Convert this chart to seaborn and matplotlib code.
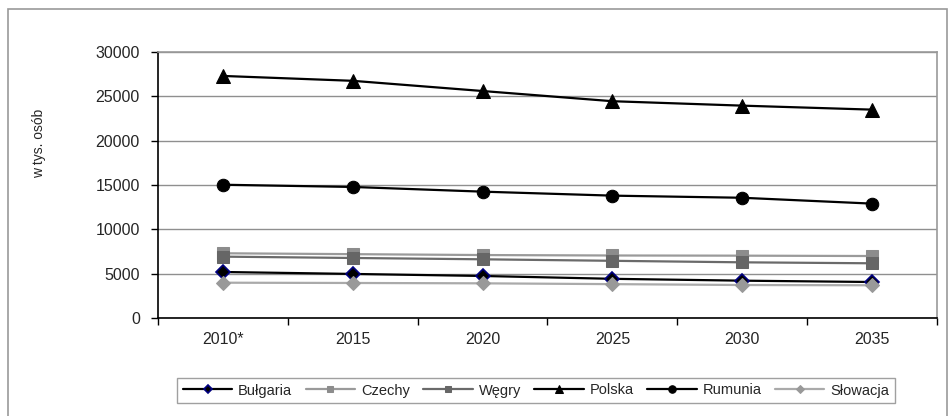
import matplotlib
matplotlib.use("Agg")
import matplotlib.pyplot as plt
import matplotlib.patches as mpatches
import seaborn as sns
import pandas as pd

years = ["2010*", "2015", "2020", "2025", "2030", "2035"]

bulgaria = [5190, 4970, 4740, 4420, 4210, 4060]
czechy = [7300, 7200, 7100, 7050, 7030, 6990]
wegry = [6920, 6770, 6620, 6450, 6280, 6170]
polska = [27300, 26750, 25600, 24450, 23950, 23500]
rumunia = [15030, 14780, 14250, 13800, 13560, 12900]
slowacja = [3980, 3950, 3910, 3820, 3720, 3690]

series = [
    ("Bułgaria", bulgaria, dict(color="black", marker="D", markersize=7.5,
                                markerfacecolor="black", markeredgecolor="#000080",
                                markeredgewidth=1.2)),
    ("Czechy", czechy, dict(color="#9a9a9a", marker="s", markersize=8,
                            markerfacecolor="#8c8c8c", markeredgecolor="#8c8c8c")),
    ("Węgry", wegry, dict(color="#6a6a6a", marker="s", markersize=8,
                          markerfacecolor="#666666", markeredgecolor="#666666")),
    ("Polska", polska, dict(color="black", marker="^", markersize=10,
                            markerfacecolor="black", markeredgecolor="black")),
    ("Rumunia", rumunia, dict(color="black", marker="o", markersize=9,
                              markerfacecolor="black", markeredgecolor="black")),
    ("Słowacja", slowacja, dict(color="#aaaaaa", marker="D", markersize=7,
                                markerfacecolor="#999999", markeredgecolor="#999999")),
]

sns.set_theme(style="white")
plt.rcParams["font.family"] = ["Liberation Sans", "DejaVu Sans"]

fig = plt.figure(figsize=(9.48, 4.16), dpi=100)
ax = fig.add_axes([158 / 948, 1 - 318 / 416, (937 - 158) / 948, (318 - 52) / 416])

xpos = list(range(len(years)))
for name, vals, style in series:
    df = pd.DataFrame({"x": xpos, "y": vals})
    sns.lineplot(data=df, x="x", y="y", ax=ax, label=name, linewidth=1.6,
                 **style)

ax.set_xlim(-0.5, len(years) - 0.5)
ax.set_ylim(0, 30000)
ax.set_yticks(range(0, 30001, 5000))
ax.set_yticklabels([str(v) for v in range(0, 30001, 5000)], fontsize=11.5)
ax.set_xticks(xpos)
ax.set_xticklabels(years, fontsize=11.5)
ax.set_xticks([i - 0.5 for i in range(len(years) + 1)], minor=True)
ax.tick_params(axis="x", which="major", length=0, pad=10)
ax.tick_params(axis="x", which="minor", length=5, width=1, color="black", direction="out", bottom=True)
ax.tick_params(axis="y", length=5, width=1, color="black", direction="out", left=True, pad=8)
ax.set_xlabel("")
ax.set_ylabel("w tys. osób", fontsize=10)
ax.yaxis.set_label_coords((46 - 158) / 779, 0.655)

ax.grid(axis="y", color="#8f8f8f", linewidth=1)
ax.set_axisbelow(True)
for side in ("left", "bottom"):
    ax.spines[side].set_color("black")
    ax.spines[side].set_linewidth(1.2)
for side in ("top", "right"):
    ax.spines[side].set_color("#999999")
    ax.spines[side].set_linewidth(1.2)

ax.get_legend().remove()
handles, labels = ax.get_legend_handles_labels()
leg = fig.legend(handles, labels, ncol=6, loc="center", mode="expand",
                 bbox_to_anchor=(177 / 948, 1 - 411 / 416, (895 - 177) / 948, 41 / 416),
                 fontsize=10.5, frameon=True, fancybox=False, handlelength=3.4,
                 handletextpad=0.4, borderaxespad=0, markerscale=0.6)
leg.get_frame().set_edgecolor("#888888")
leg.get_frame().set_linewidth(1)

fig.patches.append(mpatches.Rectangle((7.5 / 948, -0.1), (946.5 - 7.5) / 948, 1.1 - 8.5 / 416,
                                      transform=fig.transFigure, fill=False,
                                      edgecolor="#999999", linewidth=1.2))

fig.savefig("out.png", dpi=100)
